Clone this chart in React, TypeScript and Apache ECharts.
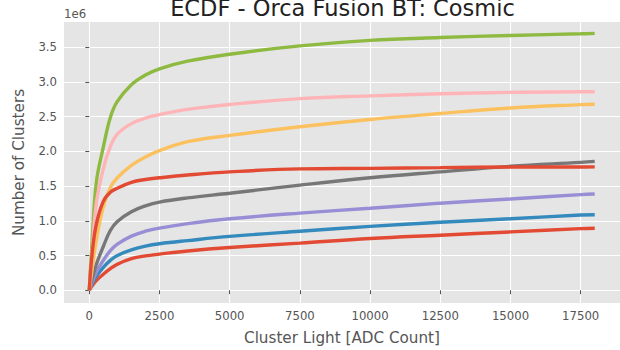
import React, { useEffect, useRef } from "react";
import * as echarts from "echarts";

// Cluster light thresholds (ADC counts) at which each cumulative count is sampled
const lightValues = [0, 100, 250, 500, 750, 1000, 1500, 2000, 2500, 3500, 5000, 7500, 10000, 12500, 15000, 17500, 18000];

// Cumulative number of clusters, in millions (axis offset 1e6)
const runA = [0, 0.06, 0.14, 0.23, 0.31, 0.375, 0.455, 0.495, 0.52, 0.565, 0.615, 0.679, 0.745, 0.793, 0.84, 0.887, 0.893];
const runB = [0, 0.09, 0.2, 0.33, 0.43, 0.5, 0.58, 0.635, 0.67, 0.715, 0.775, 0.85, 0.92, 0.979, 1.03, 1.083, 1.087];
const runC = [0, 0.11, 0.26, 0.43, 0.57, 0.665, 0.78, 0.85, 0.895, 0.96, 1.03, 1.111, 1.18, 1.254, 1.315, 1.377, 1.386];
const runD = [0, 0.16, 0.37, 0.63, 0.86, 0.99, 1.13, 1.215, 1.27, 1.33, 1.397, 1.514, 1.62, 1.705, 1.785, 1.842, 1.856];
const runE = [0, 0.3, 0.72, 1.2, 1.48, 1.62, 1.8, 1.92, 2.01, 2.14, 2.23, 2.355, 2.46, 2.545, 2.625, 2.674, 2.68];
const runF = [0, 0.7, 1.55, 2.06, 2.49, 2.72, 2.96, 3.1, 3.19, 3.3, 3.4, 3.52, 3.6, 3.64, 3.67, 3.694, 3.7];
const runG = [0, 0.55, 1.25, 1.75, 2.07, 2.25, 2.4, 2.48, 2.53, 2.605, 2.675, 2.76, 2.8, 2.83, 2.85, 2.86, 2.86];
const runH = [0, 0.52, 0.95, 1.28, 1.41, 1.47, 1.555, 1.595, 1.62, 1.66, 1.705, 1.748, 1.756, 1.766, 1.775, 1.776, 1.777];

const runs = [runA, runB, runC, runD, runE, runF, runG, runH];
const runNames = ["Run A", "Run B", "Run C", "Run D", "Run E", "Run F", "Run G", "Run H"];
const palette = ["#E24A33", "#348ABD", "#988ED5", "#777777", "#FBC15E", "#8EBA42", "#FFB5B8", "#E24A33"];

const xTicks = [0, 2500, 5000, 7500, 10000, 12500, 15000, 17500];
const yTicks = [0, 0.5, 1.0, 1.5, 2.0, 2.5, 3.0, 3.5];

const FONT = "DejaVu Sans";
const TICK_COLOR = "#555555";

export default function App() {
  const ref = useRef<HTMLDivElement>(null);

  useEffect(() => {
    if (!ref.current) return;
    const chart = echarts.init(ref.current, null, { renderer: "svg" });

    const series = runs.map((vals, i) => ({
      name: runNames[i],
      type: "line",
      data: lightValues.map((x, j) => [x, vals[j]]),
      showSymbol: false,
      smooth: 0.4,
      lineStyle: { color: palette[i], width: 3.4 },
      itemStyle: { color: palette[i] },
      z: 2 + i,
    }));

    chart.setOption({
      animation: false,
      backgroundColor: "#ffffff",
      grid: {
        left: 64,
        top: 22,
        width: 557,
        height: 284,
        show: true,
        backgroundColor: "#E5E5E5",
        borderWidth: 0,
      },
      xAxis: {
        type: "value",
        min: -900,
        max: 18900,
        name: "Cluster Light [ADC Count]",
        nameLocation: "middle",
        nameGap: 27,
        nameTextStyle: { fontFamily: FONT, fontSize: 15.2, color: TICK_COLOR },
        axisLine: { show: false },
        axisTick: {
          show: true,
          customValues: xTicks,
          length: 4,
          lineStyle: { color: TICK_COLOR, width: 1 },
        },
        axisLabel: {
          customValues: xTicks,
          fontFamily: FONT,
          fontSize: 11.7,
          color: TICK_COLOR,
          margin: 7,
          formatter: (v: number) => String(v),
        },
        splitLine: { show: true, lineStyle: { color: "#ffffff", width: 1.1 } },
      },
      yAxis: {
        type: "value",
        min: -0.184,
        max: 3.864,
        name: "Number of Clusters",
        nameLocation: "middle",
        nameGap: 38,
        nameTextStyle: { fontFamily: FONT, fontSize: 15.2, color: TICK_COLOR },
        axisLine: { show: false },
        axisTick: {
          show: true,
          customValues: yTicks,
          length: 4,
          lineStyle: { color: TICK_COLOR, width: 1 },
        },
        axisLabel: {
          customValues: yTicks,
          fontFamily: FONT,
          fontSize: 11.7,
          color: TICK_COLOR,
          margin: 7,
          formatter: (v: number) => v.toFixed(1),
        },
        splitLine: { show: true, lineStyle: { color: "#ffffff", width: 1.1 } },
      },
      graphic: [
        {
          type: "text",
          x: 342.5,
          y: 19,
          style: {
            text: "ECDF - Orca Fusion BT: Cosmic",
            fontFamily: FONT,
            fontSize: 22.5,
            fill: "#222222",
            textAlign: "center",
            textVerticalAlign: "bottom",
          },
        },
        {
          type: "text",
          x: 64,
          y: 20,
          style: {
            text: "1e6",
            fontFamily: FONT,
            fontSize: 11.7,
            fill: TICK_COLOR,
            textAlign: "left",
            textVerticalAlign: "bottom",
          },
        },
      ],
      series,
    });

    return () => chart.dispose();
  }, []);

  return (
    <div
      ref={ref}
      style={{ position: "fixed", left: 0, top: 0, width: 620, height: 350 }}
    />
  );
}
